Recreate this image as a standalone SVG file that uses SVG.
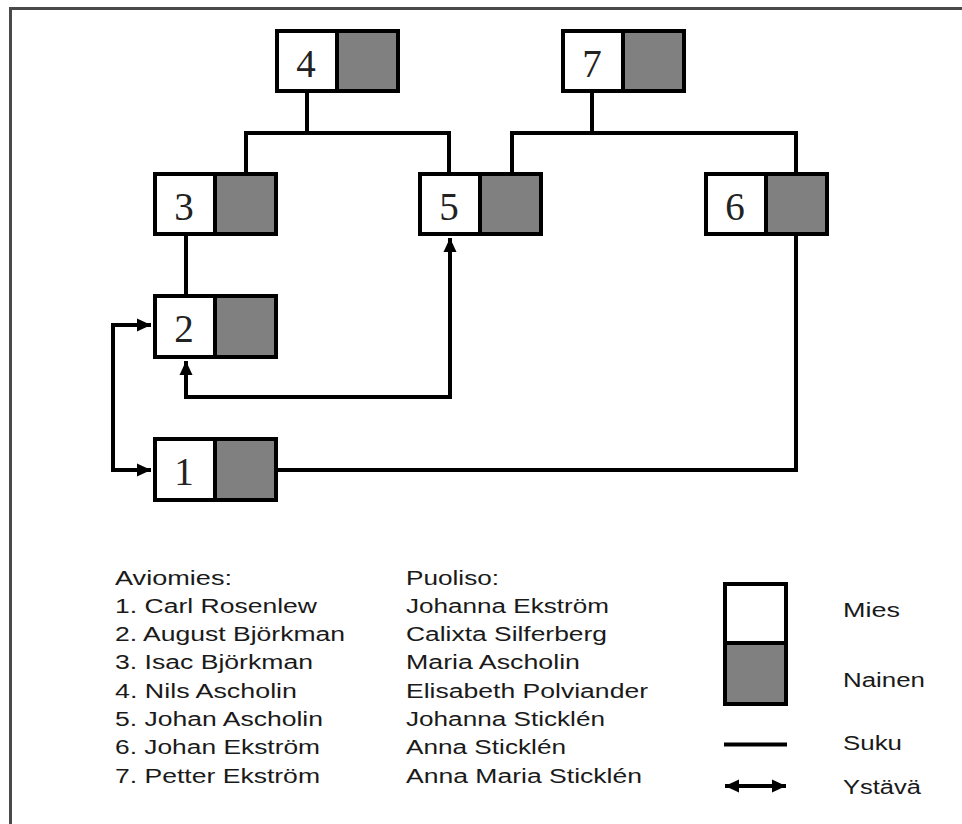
<svg xmlns="http://www.w3.org/2000/svg" width="962" height="824" viewBox="0 0 962 824">
<style>
.m{fill:#fff;stroke:#000;stroke-width:4}
.f{fill:#808080;stroke:#000;stroke-width:4}
.num{font-family:"Liberation Serif","Times New Roman",serif;font-size:39px;fill:#222;text-anchor:middle}
.ln{fill:none;stroke:#000;stroke-width:4}
.lt{font-family:"Liberation Sans",Arial,sans-serif;font-size:19.5px;fill:#1a1a1a}
</style>
<defs>
<marker id="ah" markerUnits="userSpaceOnUse" markerWidth="16" markerHeight="16" viewBox="0 0 16 16" refX="15" refY="8" orient="auto-start-reverse">
<path d="M1,1.5 L15,8 L1,14.5 Z" fill="#000"/>
</marker>
</defs>
<rect width="962" height="824" fill="#fff"/>
<path d="M10.5,824 V8.5 H962" fill="none" stroke="#4a4a4a" stroke-width="3"/>

<g id="connectors">
<path class="ln" d="M307,93 V133 M246,172 V133 H449 V172"/>
<path class="ln" d="M592,93 V133 M512,172 V133 H796 V172"/>
<path class="ln" d="M186,236 V294"/>
<path class="ln" d="M278,470 H796 V236"/>
<path class="ln" d="M186,361 V397 H450 V238" marker-start="url(#ah)" marker-end="url(#ah)"/>
<path class="ln" d="M151,325 H113 V470 H151" marker-start="url(#ah)" marker-end="url(#ah)"/>
</g>

<g id="node4"><rect class="m" x="277" y="31" width="121" height="60"/><rect class="f" x="337" y="31" width="61" height="60"/><text class="num" x="306" y="77">4</text></g>
<g id="node7"><rect class="m" x="563" y="31" width="121" height="60"/><rect class="f" x="623" y="31" width="61" height="60"/><text class="num" x="592" y="77">7</text></g>
<g id="node3"><rect class="m" x="155" y="174" width="121" height="60"/><rect class="f" x="215" y="174" width="61" height="60"/><text class="num" x="184" y="220">3</text></g>
<g id="node5"><rect class="m" x="420" y="174" width="121" height="60"/><rect class="f" x="480" y="174" width="61" height="60"/><text class="num" x="449" y="220">5</text></g>
<g id="node6"><rect class="m" x="706" y="174" width="121" height="60"/><rect class="f" x="766" y="174" width="61" height="60"/><text class="num" x="735" y="220">6</text></g>
<g id="node2"><rect class="m" x="155" y="296" width="121" height="61"/><rect class="f" x="215" y="296" width="61" height="61"/><text class="num" x="184" y="342">2</text></g>
<g id="node1"><rect class="m" x="155" y="439" width="121" height="61"/><rect class="f" x="215" y="439" width="61" height="61"/><text class="num" x="184" y="485">1</text></g>

<g id="legend-names">
<text class="lt" x="115" y="584.5" textLength="117" lengthAdjust="spacingAndGlyphs">Aviomies:</text>
<text class="lt" x="115" y="612.8" textLength="202" lengthAdjust="spacingAndGlyphs">1. Carl Rosenlew</text>
<text class="lt" x="115" y="641.1" textLength="230" lengthAdjust="spacingAndGlyphs">2. August Björkman</text>
<text class="lt" x="115" y="669.4" textLength="198" lengthAdjust="spacingAndGlyphs">3. Isac Björkman</text>
<text class="lt" x="115" y="697.7" textLength="182" lengthAdjust="spacingAndGlyphs">4. Nils Ascholin</text>
<text class="lt" x="115" y="726" textLength="208" lengthAdjust="spacingAndGlyphs">5. Johan Ascholin</text>
<text class="lt" x="115" y="754.3" textLength="205" lengthAdjust="spacingAndGlyphs">6. Johan Ekström</text>
<text class="lt" x="115" y="782.6" textLength="205" lengthAdjust="spacingAndGlyphs">7. Petter Ekström</text>
<text class="lt" x="406" y="584.5" textLength="93" lengthAdjust="spacingAndGlyphs">Puoliso:</text>
<text class="lt" x="406" y="612.8" textLength="203" lengthAdjust="spacingAndGlyphs">Johanna Ekström</text>
<text class="lt" x="406" y="641.1" textLength="201" lengthAdjust="spacingAndGlyphs">Calixta Silferberg</text>
<text class="lt" x="406" y="669.4" textLength="174" lengthAdjust="spacingAndGlyphs">Maria Ascholin</text>
<text class="lt" x="406" y="697.7" textLength="242" lengthAdjust="spacingAndGlyphs">Elisabeth Polviander</text>
<text class="lt" x="406" y="726" textLength="199" lengthAdjust="spacingAndGlyphs">Johanna Sticklén</text>
<text class="lt" x="406" y="754.3" textLength="160" lengthAdjust="spacingAndGlyphs">Anna Sticklén</text>
<text class="lt" x="406" y="782.6" textLength="236" lengthAdjust="spacingAndGlyphs">Anna Maria Sticklén</text>
</g>

<g id="legend-key">
<rect class="m" x="725" y="584" width="61" height="59"/>
<rect class="f" x="725" y="643" width="61" height="61"/>
<text class="lt" x="843" y="616.5" textLength="57" lengthAdjust="spacingAndGlyphs">Mies</text>
<text class="lt" x="843" y="686.5" textLength="82" lengthAdjust="spacingAndGlyphs">Nainen</text>
<line x1="724" y1="744.5" x2="787" y2="744.5" stroke="#000" stroke-width="4"/>
<text class="lt" x="843" y="749.5" textLength="59" lengthAdjust="spacingAndGlyphs">Suku</text>
<path class="ln" d="M725,786 H786" marker-start="url(#ah)" marker-end="url(#ah)"/>
<text class="lt" x="843" y="793.5" textLength="78" lengthAdjust="spacingAndGlyphs">Ystävä</text>
</g>
</svg>
